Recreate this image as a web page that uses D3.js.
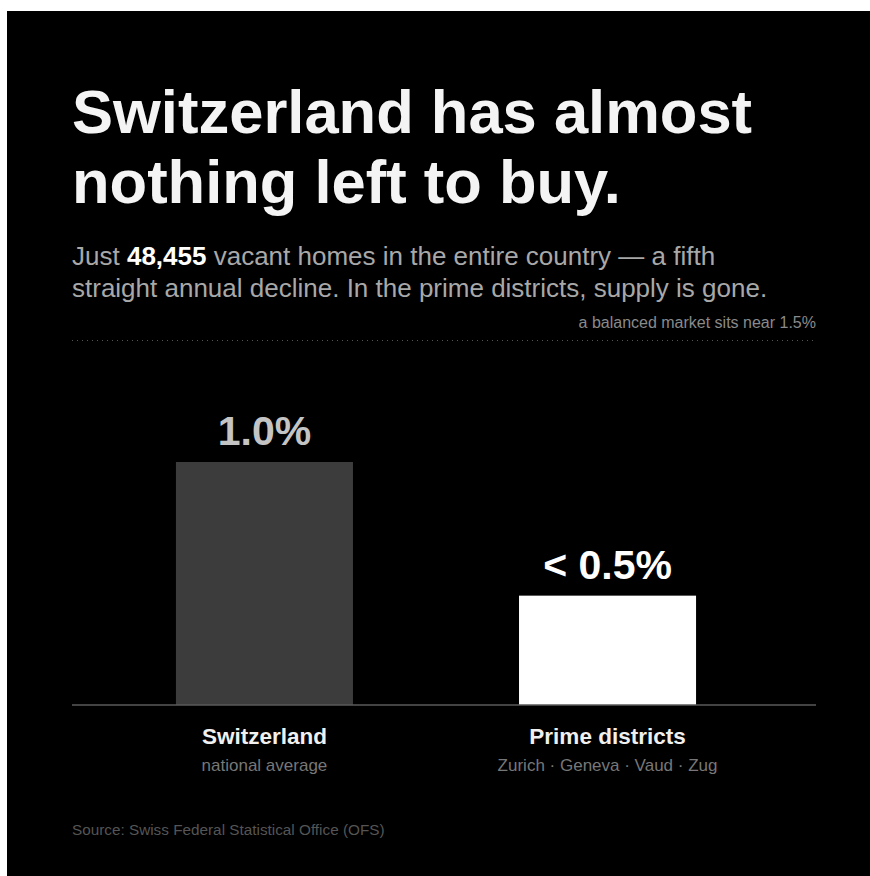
<!DOCTYPE html>
<html>
<head>
<meta charset="utf-8">
<script src="https://cdn.jsdelivr.net/npm/d3@7"></script>
<style>
  body { margin: 0; background: #fff; }
  svg { display: block; font-family: "Liberation Sans", Arial, sans-serif; }
</style>
</head>
<body>
<script>
'use strict';

const categories = ["Switzerland", "Prime districts"],
      subLabels = ["national average", "Zurich \u00b7 Geneva \u00b7 Vaud \u00b7 Zug"],
      values = [1.0, 0.45],
      valueLabels = ["1.0%", "< 0.5%"],
      balancedRate = 1.5;

const width = 870, height = 876;

const svg = d3.select("body").append("svg")
    .attr("width", width)
    .attr("height", height);

svg.append("rect")
    .attr("x", 7).attr("y", 11)
    .attr("width", width - 7).attr("height", height - 11)
    .attr("fill", "#000");

// title
const title = svg.append("text")
    .attr("x", 72)
    .attr("fill", "#f4f4f4")
    .style("font-size", "61.5px")
    .style("font-weight", "bold");
title.append("tspan").attr("x", 72).attr("y", 133).text("Switzerland has almost");
title.append("tspan").attr("x", 72).attr("y", 203).text("nothing left to buy.");

// subtitle
const sub = svg.append("text")
    .attr("fill", "#a8a8a8")
    .style("font-size", "26px");
const l1 = sub.append("tspan").attr("x", 72).attr("y", 265);
l1.append("tspan").text("Just ");
l1.append("tspan").attr("fill", "#fff").style("font-weight", "bold").text("48,455");
l1.append("tspan").text(" vacant homes in the entire country \u2014 a fifth");
sub.append("tspan").attr("x", 72).attr("y", 297)
    .text("straight annual decline. In the prime districts, supply is gone.");

// scales
const x = d3.scaleBand()
    .domain(categories)
    .range([72, 800])
    .paddingInner(0.484)
    .paddingOuter(0.303);

const y = d3.scaleLinear()
    .domain([0, balancedRate])
    .range([705, 340.5]);

// balanced market reference
svg.append("line")
    .attr("x1", 72).attr("x2", 816)
    .attr("y1", y(balancedRate)).attr("y2", y(balancedRate))
    .attr("stroke", "#555")
    .attr("stroke-width", 1)
    .attr("stroke-dasharray", "1,4");

svg.append("text")
    .attr("x", 816)
    .attr("y", y(balancedRate) - 13)
    .attr("text-anchor", "end")
    .attr("fill", "#8a8a8a")
    .style("font-size", "16px")
    .text("a balanced market sits near " + balancedRate + "%");

// bars
svg.selectAll(".bar")
    .data(values)
  .enter().append("rect")
    .attr("class", "bar")
    .attr("x", (d, i) => x(categories[i]))
    .attr("y", (d) => y(d))
    .attr("width", x.bandwidth())
    .attr("height", (d) => y(0) - y(d))
    .attr("fill", (d, i) => i === 0 ? "#3c3c3c" : "#fff");

svg.selectAll(".val")
    .data(values)
  .enter().append("text")
    .attr("class", "val")
    .attr("x", (d, i) => x(categories[i]) + x.bandwidth() / 2)
    .attr("y", (d) => y(d) - 17)
    .attr("text-anchor", "middle")
    .attr("fill", (d, i) => i === 0 ? "#c4c4c4" : "#fff")
    .style("font-size", "41px")
    .style("font-weight", "bold")
    .text((d, i) => valueLabels[i]);

// baseline
svg.append("line")
    .attr("x1", 72).attr("x2", 816)
    .attr("y1", y(0)).attr("y2", y(0))
    .attr("stroke", "#5a5a5a")
    .attr("stroke-width", 1.5);

// category labels
svg.selectAll(".cat")
    .data(categories)
  .enter().append("text")
    .attr("class", "cat")
    .attr("x", (d) => x(d) + x.bandwidth() / 2)
    .attr("y", 744)
    .attr("text-anchor", "middle")
    .attr("fill", "#f0f0f0")
    .style("font-size", "22.5px")
    .style("font-weight", "bold")
    .text((d) => d);

svg.selectAll(".subcat")
    .data(subLabels)
  .enter().append("text")
    .attr("class", "subcat")
    .attr("x", (d, i) => x(categories[i]) + x.bandwidth() / 2)
    .attr("y", 771)
    .attr("text-anchor", "middle")
    .attr("fill", "#777")
    .style("font-size", "17px")
    .text((d) => d);

// source
svg.append("text")
    .attr("x", 72)
    .attr("y", 835)
    .attr("fill", "#555")
    .style("font-size", "15.3px")
    .text("Source: Swiss Federal Statistical Office (OFS)");
</script>
</body>
</html>
